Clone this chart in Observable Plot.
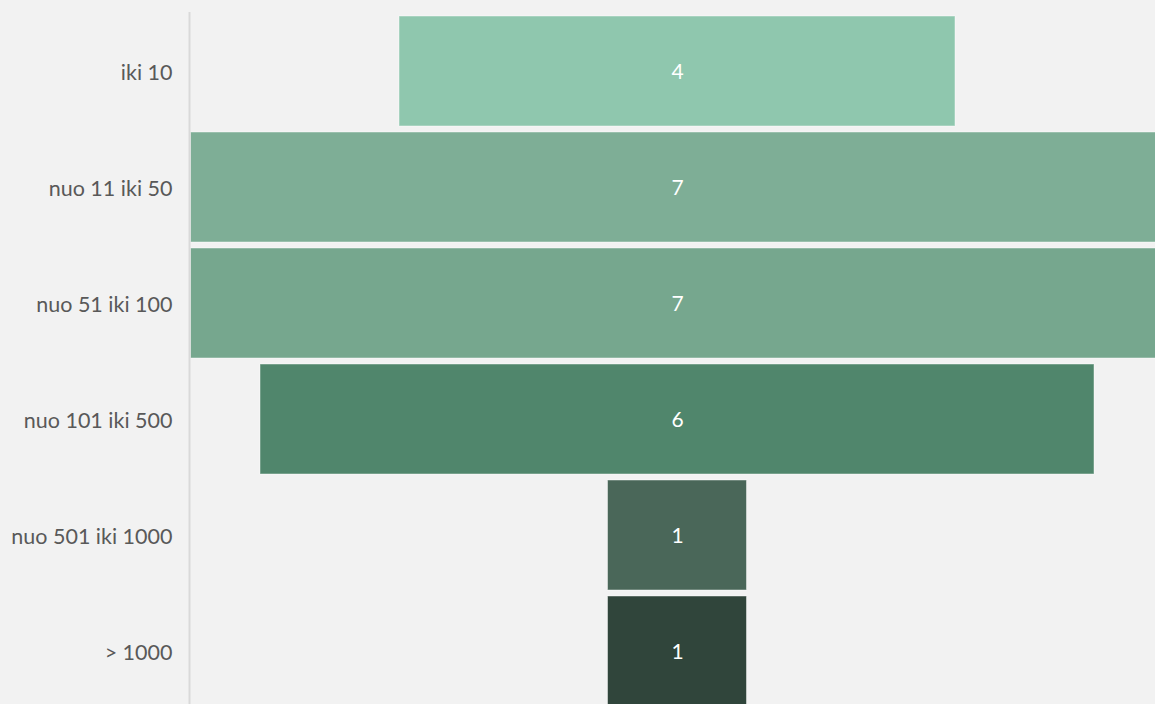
<!DOCTYPE html>
<html>
<head>
<meta charset="utf-8">
<script src="https://cdn.jsdelivr.net/npm/d3@7"></script>
<script src="https://cdn.jsdelivr.net/npm/@observablehq/plot@0.6"></script>
<style>
  html, body { margin: 0; padding: 0; background: #f2f2f2; overflow: hidden; }
  #chart svg { display: block; overflow: hidden; }
</style>
</head>
<body>
<div id="chart"></div>
<script>
const categories = ["iki 10", "nuo 11 iki 50", "nuo 51 iki 100", "nuo 101 iki 500", "nuo 501 iki 1000", "> 1000"];
const values = [4, 7, 7, 6, 1, 1];
const colors = ["#8fc7ae", "#7eae96", "#76a78e", "#50866c", "#4a6759", "#30453b"];

const data = categories.map((c, i) => ({category: c, value: values[i], color: colors[i]}));

const plot = Plot.plot({
  width: 1155,
  height: 704,
  marginTop: 0,
  marginBottom: 0,
  marginLeft: 190,
  marginRight: 0,
  style: {background: "#f2f2f2", fontFamily: "Lato, 'Open Sans', sans-serif"},
  x: {domain: [-3.5, 3.5], range: [190.5, 1163.5], axis: null},
  y: {domain: categories, range: [11.4, 710.4], paddingInner: 0.056, paddingOuter: 0.028, label: null},
  marks: [
    Plot.barX(data, {
      y: "category",
      x1: d => -d.value / 2,
      x2: d => d.value / 2,
      fill: d => d.color,
      stroke: "#ffffff",
      strokeOpacity: 0.45,
      strokeWidth: 1
    }),
    Plot.text(data, {
      y: "category",
      x: 0,
      text: d => String(d.value),
      fill: "#ffffff",
      fontSize: 21,
      dy: 0.5
    }),
    Plot.ruleX([-3.5], {stroke: "#d9d9d9", strokeWidth: 2, dx: -1.5, insetTop: 12}),
    Plot.axisY({tickSize: 0, tickPadding: 18, fontSize: 21.5, dy: 1.5, color: "#595959", label: null})
  ]
});
document.getElementById("chart").appendChild(plot);
</script>
</body>
</html>
